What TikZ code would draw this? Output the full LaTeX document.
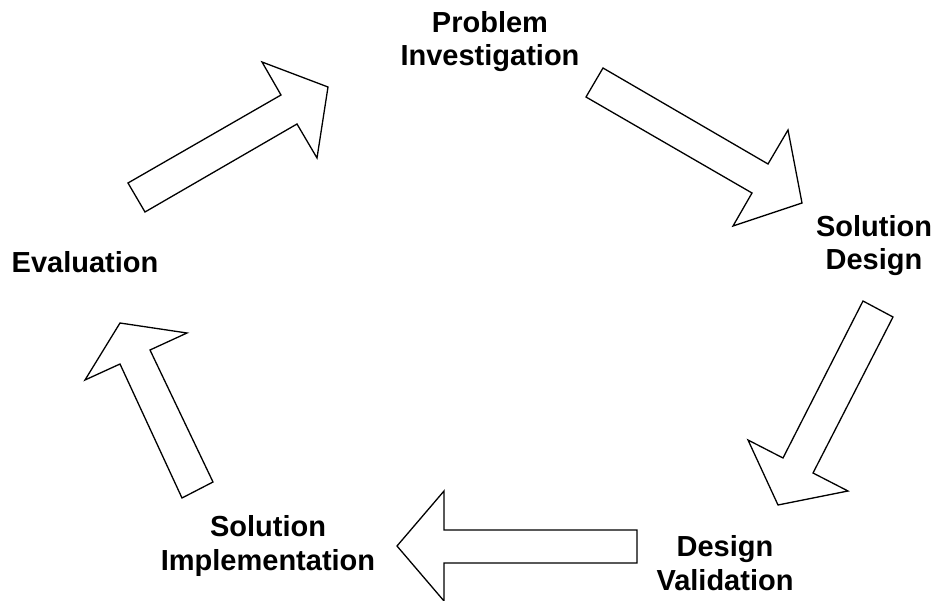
\documentclass[tikz,border=0pt]{standalone}
\usepackage{fontspec}
\setmainfont{Liberation Sans}
\begin{document}
\begin{tikzpicture}[x=1pt,y=-1pt,
  lbl/.style={font=\fontsize{29}{33.5}\selectfont\bfseries, align=center, inner sep=0pt, anchor=base},
  blockarrow/.style={draw=black, line width=1.3pt, line join=miter, fill=white}]
\useasboundingbox (0,0) rectangle (937,601);
% block arrows
\draw[blockarrow] (128,183) -- (281,95) -- (262,62) -- (328,87) -- (317,158) -- (297,124) -- (145,212) -- cycle;
\draw[blockarrow] (603,68) -- (768,164) -- (788,130) -- (802,203) -- (733,226) -- (752,193) -- (586,97) -- cycle;
\draw[blockarrow] (863,301) -- (893,317) -- (813,473) -- (848,491) -- (778,505) -- (748,440) -- (783,458) -- cycle;
\draw[blockarrow] (397,546) -- (444,491) -- (444,530) -- (637,530) -- (637,563) -- (444,563) -- (444,601) -- cycle;
\draw[blockarrow] (120,323) -- (187,333) -- (150,350) -- (213,482) -- (182,498) -- (120,364) -- (85,380) -- cycle;
% labels (anchor = baseline of last line)
\node[lbl] (pi) at (490,66) {Problem\\Investigation};
\node[lbl] (sd) at (874,270) {Solution\\Design};
\node[lbl] (ev) at (85,273) {Evaluation};
\node[lbl] (dv) at (725,590) {Design\\Validation};
\node[lbl] (si) at (268,570) {Solution\\Implementation};
\end{tikzpicture}
\end{document}
